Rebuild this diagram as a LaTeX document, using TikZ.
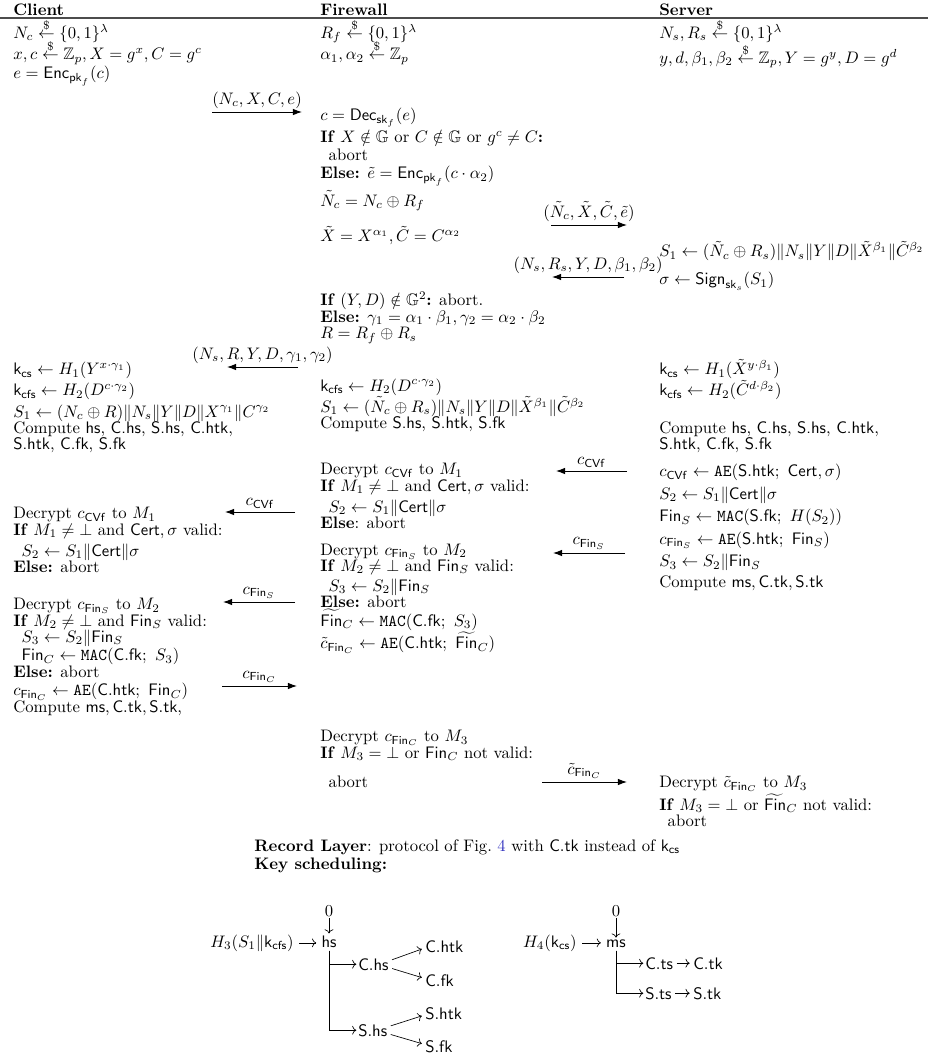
\documentclass[tikz,border=0pt]{standalone}
\usepackage{amsmath,amssymb}
\usetikzlibrary{arrows.meta}
\definecolor{figref}{rgb}{0.2,0.2,0.75}
\newcommand{\rnd}{\mathrel{\smash{\stackrel{\$}{\leftarrow}}}}
\tikzset{
  blk/.style={anchor=north west, align=left, inner sep=0pt, font=\fontsize{10}{9.8}\selectfont},
  hdr/.style={anchor=base west, inner sep=0pt, font=\bfseries},
  msg/.style={-{Latex[length=5.5pt,width=4pt]}, line width=0.6pt},
  lbl/.style={midway, above, inner sep=2pt},
  ks/.style={inner sep=0pt},
}
\begin{document}
\begin{tikzpicture}[x=0.6pt, y=-0.6pt]
\useasboundingbox (0,0) rectangle (928,1057);
% header
\node[hdr] (hcli) at (13,15) {Client};
\node[hdr] (hfw) at (320,15) {Firewall};
\node[hdr] (hsrv) at (659,15) {Server};
\draw[line width=0.8pt, black!70] (0,18) -- (928,18);

% client
\node[blk] (cli1) at (13,24) {$N_c \rnd \{0,1\}^\lambda$\\[3pt]
  $x, c \rnd \mathbb{Z}_p, X = g^x, C = g^c$\\
  $e = \mathsf{Enc}_{\mathsf{pk}_f}(c)$};
\node[blk] (cli2) at (13,359) {$\mathsf{k}_{\mathsf{cs}} \leftarrow H_1(Y^{x \cdot \gamma_1})\vphantom{\tilde{X}^{y \cdot \beta_1}}$\\
  $\mathsf{k}_{\mathsf{cfs}} \leftarrow H_2(D^{c \cdot \gamma_2})\vphantom{\tilde{C}^{d \cdot \beta_2}}$\\
  $S_1 \leftarrow (N_c \oplus R)\|N_s\|Y\|D\|X^{\gamma_1}\|C^{\gamma_2}\vphantom{\tilde{X}^{\beta_1}}$\\
  Compute \textsf{hs}, \textsf{C.hs}, \textsf{S.hs}, \textsf{C.htk},\\
  \textsf{S.htk}, \textsf{C.fk}, \textsf{S.fk}};
\node[blk] (cli3) at (13,507) {Decrypt $c_{\mathsf{CVf}}$ to $M_1$\\
  \textbf{If} $M_1 \neq \bot$ and $\mathsf{Cert}, \sigma$ valid:\\[3pt]
  \enspace$S_2 \leftarrow S_1\|\mathsf{Cert}\|\sigma$\\
  \textbf{Else:} abort};
\node[blk] (cli4) at (13,598) {Decrypt $c_{\mathsf{Fin}_S}$ to $M_2$\\
  \textbf{If} $M_2 \neq \bot$ and $\mathsf{Fin}_S$ valid:\\
  \enspace$S_3 \leftarrow S_2\|\mathsf{Fin}_S$\\
  \enspace$\mathsf{Fin}_C \leftarrow \mathtt{MAC}(\mathsf{C.fk};\ S_3)$\\
  \textbf{Else:} abort};
\node[blk] (cli5) at (13,683) {$c_{\mathsf{Fin}_C} \leftarrow \mathtt{AE}(\mathsf{C.htk};\ \mathsf{Fin}_C)$\\
  Compute $\mathsf{ms}, \mathsf{C.tk}, \mathsf{S.tk}$,};

% firewall
\node[blk] (fw1) at (320,24) {$R_f \rnd \{0,1\}^\lambda$\\[3pt]
  $\alpha_1, \alpha_2 \rnd \mathbb{Z}_p$};
\node[blk] (fw2) at (320,108) {$c = \mathsf{Dec}_{\mathsf{sk}_f}(e)$\\[1pt]
  \textbf{If} $X \notin \mathbb{G}$ or $C \notin \mathbb{G}$ or $g^c \neq C$\textbf{:}\\[1pt]
  \enspace abort\\[1pt]
  \textbf{Else:} $\tilde{e} = \mathsf{Enc}_{\mathsf{pk}_f}(c \cdot \alpha_2)$\\[2pt]
  $\tilde{N}_c = N_c \oplus R_f$\\[8pt]
  $\tilde{X} = X^{\alpha_1}, \tilde{C} = C^{\alpha_2}$};
\node[blk] (fw3) at (320,292) {\textbf{If} $(Y, D) \notin \mathbb{G}^2$\textbf{:} abort.\\
  \textbf{Else:} $\gamma_1 = \alpha_1 \cdot \beta_1, \gamma_2 = \alpha_2 \cdot \beta_2$\\
  $R = R_f \oplus R_s$};
\node[blk] (fw4) at (320,359) {$\vphantom{\tilde{X}^{y \cdot \beta_1}}$\\
  $\mathsf{k}_{\mathsf{cfs}} \leftarrow H_2(D^{c \cdot \gamma_2})\vphantom{\tilde{C}^{d \cdot \beta_2}}$\\
  $S_1 \leftarrow (\tilde{N}_c \oplus R_s)\|N_s\|Y\|D\|\tilde{X}^{\beta_1}\|\tilde{C}^{\beta_2}$\\
  Compute \textsf{S.hs}, \textsf{S.htk}, \textsf{S.fk}};
\node[blk] (fw5) at (320,463) {Decrypt $c_{\mathsf{CVf}}$ to $M_1$\\
  \textbf{If} $M_1 \neq \bot$ and $\mathsf{Cert}, \sigma$ valid:\\[3pt]
  \enspace$S_2 \leftarrow S_1\|\mathsf{Cert}\|\sigma$\\
  \textbf{Else}: abort\\[6pt]
  Decrypt $c_{\mathsf{Fin}_S}$ to $M_2$\\
  \textbf{If} $M_2 \neq \bot$ and $\mathsf{Fin}_S$ valid:\\[2pt]
  \enspace$S_3 \leftarrow S_2\|\mathsf{Fin}_S$\\
  \textbf{Else:} abort\\
  $\widetilde{\mathsf{Fin}}_C \leftarrow \mathtt{MAC}(\mathsf{C.fk};\ S_3)$\\
  $\tilde{c}_{\mathsf{Fin}_C} \leftarrow \mathtt{AE}(\mathsf{C.htk};\ \widetilde{\mathsf{Fin}}_C)$};
\node[blk] (fw6) at (320,730) {Decrypt $c_{\mathsf{Fin}_C}$ to $M_3$\\
  \textbf{If} $M_3 = \bot$ or $\mathsf{Fin}_C$ not valid:\\[8pt]
  \enspace abort};

% server
\node[blk] (srv1) at (659,24) {$N_s, R_s \rnd \{0,1\}^\lambda$\\[3pt]
  $y, d, \beta_1, \beta_2 \rnd \mathbb{Z}_p, Y = g^y, D = g^d$};
\node[blk] (srv2) at (659,241) {$S_1 \leftarrow (\tilde{N}_c \oplus R_s)\|N_s\|Y\|D\|\tilde{X}^{\beta_1}\|\tilde{C}^{\beta_2}$};
\node[blk] (srv3) at (659,272) {$\sigma \leftarrow \mathsf{Sign}_{\mathsf{sk}_s}(S_1)$};
\node[blk] (srv4) at (659,359) {$\mathsf{k}_{\mathsf{cs}} \leftarrow H_1(\tilde{X}^{y \cdot \beta_1})$\\
  $\mathsf{k}_{\mathsf{cfs}} \leftarrow H_2(\tilde{C}^{d \cdot \beta_2})$\\
  $\vphantom{\tilde{X}^{\beta_1}}$\\
  Compute \textsf{hs}, \textsf{C.hs}, \textsf{S.hs}, \textsf{C.htk},\\
  \textsf{S.htk}, \textsf{C.fk}, \textsf{S.fk}};
\node[blk] (srv5) at (659,464) {$c_{\mathsf{CVf}} \leftarrow \mathtt{AE}(\mathsf{S.htk};\ \mathsf{Cert}, \sigma)$\\[2.5pt]
  $S_2 \leftarrow S_1\|\mathsf{Cert}\|\sigma$\\[2.5pt]
  $\mathsf{Fin}_S \leftarrow \mathtt{MAC}(\mathsf{S.fk};\ H(S_2))$\\[2.5pt]
  $c_{\mathsf{Fin}_S} \leftarrow \mathtt{AE}(\mathsf{S.htk};\ \mathsf{Fin}_S)$\\[2.5pt]
  $S_3 \leftarrow S_2\|\mathsf{Fin}_S$\\[2.5pt]
  Compute $\mathsf{ms}, \mathsf{C.tk}, \mathsf{S.tk}$};
\node[blk] (srv6) at (659,776) {Decrypt $\tilde{c}_{\mathsf{Fin}_C}$ to $M_3$\\
  \textbf{If} $M_3 = \bot$ or $\widetilde{\mathsf{Fin}}_C$ not valid:\\
  \enspace abort};

% messages
\coordinate (m1a) at (212,112); \coordinate (m1b) at (302,112);
\draw[msg] (m1a) -- (m1b) node[lbl] {$(N_c, X, C, e)$};
\coordinate (m2a) at (551,225); \coordinate (m2b) at (627,225);
\draw[msg] (m2a) -- (m2b) node[lbl] {$(\tilde{N}_c, \tilde{X}, \tilde{C}, \tilde{e})$};
\coordinate (m3a) at (624,277); \coordinate (m3b) at (552,277);
\draw[msg] (m3a) -- (m3b) node[lbl] {$(N_s, R_s, Y, D, \beta_1, \beta_2)$};
\coordinate (m4a) at (298,367); \coordinate (m4b) at (227,367);
\draw[msg] (m4a) -- (m4b) node[lbl] {$(N_s, R, Y, D, \gamma_1, \gamma_2)$};
\coordinate (m5a) at (627,471); \coordinate (m5b) at (556,471);
\draw[msg] (m5a) -- (m5b) node[lbl] {$c_{\mathsf{CVf}}$};
\coordinate (m6a) at (295,512); \coordinate (m6b) at (225,512);
\draw[msg] (m6a) -- (m6b) node[lbl] {$c_{\mathsf{CVf}}$};
\coordinate (m7a) at (625,553); \coordinate (m7b) at (553,553);
\draw[msg] (m7a) -- (m7b) node[lbl] {$c_{\mathsf{Fin}_S}$};
\coordinate (m8a) at (295,602); \coordinate (m8b) at (223,602);
\draw[msg] (m8a) -- (m8b) node[lbl] {$c_{\mathsf{Fin}_S}$};
\coordinate (m9a) at (222,686); \coordinate (m9b) at (297,686);
\draw[msg] (m9a) -- (m9b) node[lbl] {$c_{\mathsf{Fin}_C}$};
\coordinate (m10a) at (542,782); \coordinate (m10b) at (627,782);
\draw[msg] (m10a) -- (m10b) node[lbl] {$\tilde{c}_{\mathsf{Fin}_C}$};

% record layer and key scheduling
\node[ks, anchor=west] (rec) at (254,847) {\textbf{Record Layer}: protocol of Fig.~\textcolor{figref}{4} with $\mathsf{C.tk}$ instead of $\mathsf{k}_{\mathsf{cs}}$};
\node[ks, anchor=west] (keys) at (254,865) {\textbf{Key scheduling:}};

\node[ks, anchor=base] (z1) at (329,916) {$0$};
\node[ks, anchor=base] (hs) at (329,947) {$\mathsf{hs}$};
\node[ks, anchor=base east] (h3) at (294,947) {$H_3(S_1\|\mathsf{k}_{\mathsf{cfs}})$};
\node[ks, anchor=base west] (chs) at (358,970) {$\mathsf{C.hs}$};
\node[ks, anchor=base west] (chtk) at (425,952) {$\mathsf{C.htk}$};
\node[ks, anchor=base west] (cfk) at (425,986) {$\mathsf{C.fk}$};
\node[ks, anchor=base west] (shs) at (358,1036) {$\mathsf{S.hs}$};
\node[ks, anchor=base west] (shtk) at (425,1019) {$\mathsf{S.htk}$};
\node[ks, anchor=base west] (sfk) at (425,1052) {$\mathsf{S.fk}$};
\draw[->, shorten <=1pt, shorten >=1pt] (z1) -- (hs);
\draw[->, shorten <=3pt, shorten >=3pt] (h3.east) -- (h3.east -| hs.west);
\draw[->, shorten >=1pt] ([yshift=-2pt]hs.south) |- (chs.west);
\draw[->, shorten >=1pt] ([yshift=-2pt]hs.south) |- (shs.west);
\draw[->, shorten <=2pt, shorten >=2pt] ([yshift=2pt]chs.east) -- ([yshift=-1pt]chtk.west);
\draw[->, shorten <=2pt, shorten >=2pt] ([yshift=-2pt]chs.east) -- ([yshift=1pt]cfk.west);
\draw[->, shorten <=2pt, shorten >=2pt] ([yshift=2pt]shs.east) -- ([yshift=-1pt]shtk.west);
\draw[->, shorten <=2pt, shorten >=2pt] ([yshift=-2pt]shs.east) -- ([yshift=1pt]sfk.west);

\node[ks, anchor=base] (z2) at (616,916) {$0$};
\node[ks, anchor=base] (ms) at (616,947) {$\mathsf{ms}$};
\node[ks, anchor=base east] (h4) at (577,947) {$H_4(\mathsf{k}_{\mathsf{cs}})$};
\node[ks, anchor=base west] (cts) at (645,969) {$\mathsf{C.ts}$};
\node[ks, anchor=base west] (ctk) at (693,969) {$\mathsf{C.tk}$};
\node[ks, anchor=base west] (sts) at (645,999) {$\mathsf{S.ts}$};
\node[ks, anchor=base west] (stk) at (693,999) {$\mathsf{S.tk}$};
\draw[->, shorten <=1pt, shorten >=1pt] (z2) -- (ms);
\draw[->, shorten <=3pt, shorten >=3pt] (h4.east) -- (h4.east -| ms.west);
\draw[->, shorten >=1pt] ([yshift=-2pt]ms.south) |- (cts.west);
\draw[->, shorten >=1pt] ([yshift=-2pt]ms.south) |- (sts.west);
\draw[->, shorten <=2pt, shorten >=2pt] (cts) -- (ctk);
\draw[->, shorten <=2pt, shorten >=2pt] (sts) -- (stk);
\end{tikzpicture}
\end{document}
